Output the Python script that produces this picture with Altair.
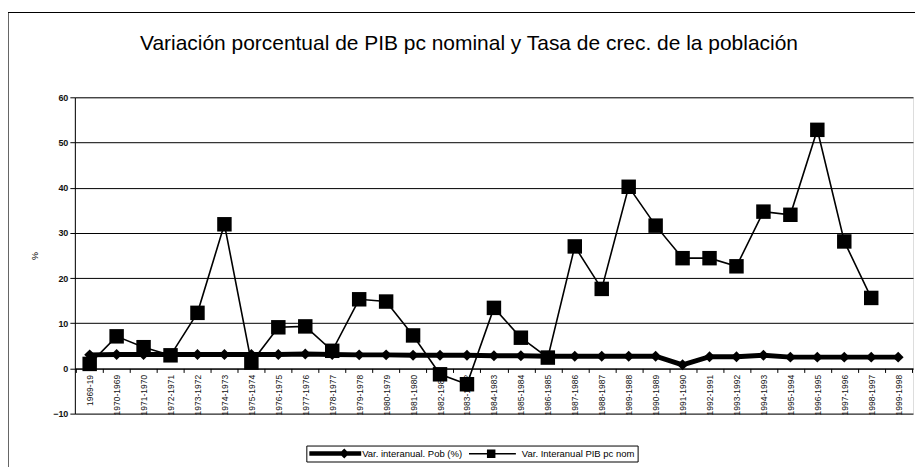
import altair as alt
import pandas as pd

periodos = ["1969-19", "1970-1969", "1971-1970", "1972-1971", "1973-1972", "1974-1973",
            "1975-1974", "1976-1975", "1977-1976", "1978-1977", "1979-1978", "1980-1979",
            "1981-1980", "1982-1981", "1983-1982", "1984-1983", "1985-1984", "1986-1985",
            "1987-1986", "1988-1987", "1989-1988", "1990-1989", "1991-1990", "1992-1991",
            "1993-1992", "1994-1993", "1995-1994", "1996-1995", "1997-1996", "1998-1997",
            "1999-1998"]

pob = [3.0, 3.1, 3.1, 3.1, 3.1, 3.1, 3.1, 3.1, 3.2, 3.1, 3.0, 3.0, 2.9, 2.9, 2.9, 2.8,
       2.8, 2.7, 2.7, 2.7, 2.7, 2.7, 0.8, 2.6, 2.6, 2.9, 2.5, 2.5, 2.5, 2.5, 2.5]

pib = [1.0, 7.1, 4.7, 2.9, 12.3, 31.9, 1.3, 9.1, 9.3, 3.9, 15.3, 14.8, 7.3, -1.3, -3.5,
       13.4, 6.8, 2.4, 27.0, 17.6, 40.2, 31.6, 24.4, 24.4, 22.6, 34.7, 34.0, 52.8, 28.1,
       15.6, None]

series = ["Var. interanual. Pob (%)", "Var. Interanual PIB pc nom"]

df = pd.concat([
    pd.DataFrame({"periodo": periodos, "serie": series[0], "valor": pob}),
    pd.DataFrame({"periodo": periodos, "serie": series[1], "valor": pib}),
], ignore_index=True)

W, H = 840, 317
FONT = "Liberation Sans"

x_enc = alt.X("periodo:N", sort=periodos,
              scale=alt.Scale(type="band", paddingInner=0, paddingOuter=0.05),
              axis=alt.Axis(title=None, labelAngle=-90, labelFontSize=8.5, labelFont=FONT,
                            labelColor="#111", labelPadding=2, tickBand="extent",
                            tickSize=4, tickColor="black", domainColor="black",
                            offset=-(H * 10 / 70), grid=False, labelOverlap=False))
y_enc = alt.Y("valor:Q",
              scale=alt.Scale(domain=[-10, 60], nice=False, zero=False),
              axis=alt.Axis(title="%", values=list(range(-10, 61, 10)), labelFontSize=9,
                            labelFont=FONT, labelFontWeight="bold", labelColor="#111",
                            tickSize=5, tickColor="black", domainColor="black",
                            gridColor="black", gridWidth=1, titleFontSize=9,
                            titleFont=FONT, titleFontWeight="normal", titlePadding=13))

base = alt.Chart(df)

pob_line = base.transform_filter(alt.datum.serie == series[0]).mark_line(
    color="black", strokeWidth=5).encode(x=x_enc, y=y_enc)
pob_pts = base.transform_filter(alt.datum.serie == series[0]).mark_point(
    shape="diamond", filled=True, color="black", size=120, opacity=1).encode(x=x_enc, y=y_enc)
pib_line = base.transform_filter(alt.datum.serie == series[1]).mark_line(
    color="black", strokeWidth=1.6).encode(x=x_enc, y=y_enc)
pib_pts = base.transform_filter(alt.datum.serie == series[1]).mark_point(
    shape="square", filled=True, color="black", size=210, opacity=1).encode(x=x_enc, y=y_enc)

# legend symbols: unit = 5 px (symbolSize 100)
path_pob = "M-1,-0.45H9.4V0.45H-1Z M5,0 L6,-1 L7,0 L6,1Z"
path_pib = "M-1,-0.15H8.4V0.15H-1Z M2.6,-0.85H4.3V0.85H2.6Z"

legend_layer = base.transform_filter(alt.datum.valor > 1000).mark_point(
    filled=True, color="black", opacity=1).encode(
    x=x_enc, y=y_enc,
    shape=alt.Shape("serie:N",
                    scale=alt.Scale(domain=series, range=[path_pob, path_pib]),
                    legend=alt.Legend(title=None, orient="none", legendX=232, legendY=349,
                                      direction="horizontal", symbolSize=100,
                                      symbolFillColor="black", symbolStrokeWidth=0,
                                      labelFont=FONT, labelFontSize=9.5, labelColor="black",
                                      labelOffset=43, columnPadding=6, padding=3,
                                      strokeColor="black", symbolOpacity=1)))

frame = alt.Chart(pd.DataFrame({"a": [0]})).mark_rect(
    fill=None, stroke="black", strokeWidth=1.2).encode(
    x=alt.value(-67), y=alt.value(-85), x2=alt.value(860), y2=alt.value(400))

chart = alt.layer(frame, pob_line, pob_pts, pib_line, pib_pts, legend_layer).properties(
    width=W, height=H,
    padding={"left": 67, "top": 89, "right": 2, "bottom": 53},
    autosize=alt.AutoSizeParams(type="none"),
    title=alt.TitleParams(
        "Variación porcentual de PIB pc nominal y Tasa de crec. de la población",
        font=FONT, fontSize=21, fontWeight="normal", anchor="middle", color="black",
        offset=-42, dx=-25, frame="group"),
).configure_view(stroke="#222", strokeDash=[2, 1], strokeWidth=1).configure(
    background="white")

chart.save("out.html", embed_options={"renderer": "svg", "actions": False})
